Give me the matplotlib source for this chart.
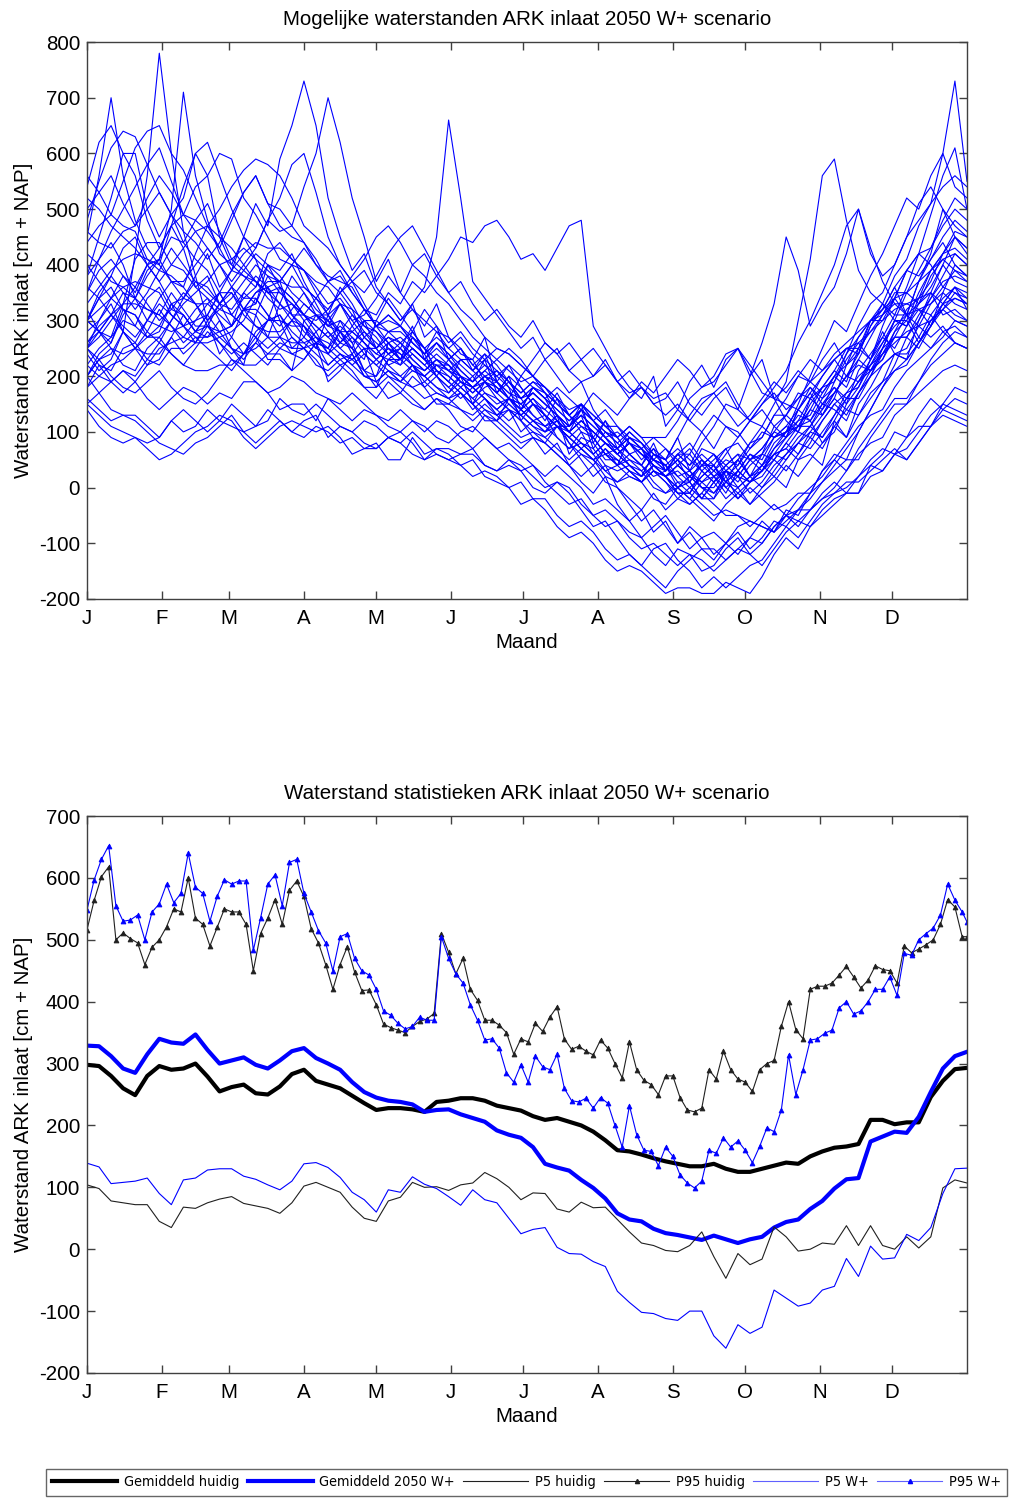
import matplotlib
matplotlib.use("Agg")
import matplotlib.pyplot as plt
from matplotlib.lines import Line2D
from matplotlib import font_manager
from matplotlib.font_manager import FontProperties

plt.rcParams['font.family'] = ['Liberation Sans', 'DejaVu Sans']
plt.rcParams['axes.unicode_minus'] = False

# Month axis
month_starts = [0, 31, 59, 90, 120, 151, 181, 212, 243, 273, 304, 334]
month_labels = ['J', 'F', 'M', 'A', 'M', 'J', 'J', 'A', 'S', 'O', 'N', 'D']

# ---- Possible water levels per simulated year (cm + NAP), every 5 days ----
run_days = list(range(0, 366, 5))
run01 = [250, 300, 330, 280, 420, 560, 780, 600, 460, 380, 300, 240, 270, 320, 330, 400, 360, 310, 290, 250, 240, 280, 250, 210, 200, 260, 230, 280, 250, 210, 190, 170, 150, 190, 160, 140, 120, 150, 130, 90, 70, 100, 60, 30, 40, 90, 70, 30, 20, -10, -10, 30, 10, 40, 60, 20, 30, 70, 90, 140, 120, 80, 100, 150, 180, 230, 280, 240, 230, 300, 350, 310, 320, 300]
run02 = [450, 560, 700, 560, 480, 430, 400, 470, 430, 360, 380, 330, 290, 350, 330, 380, 370, 310, 280, 260, 250, 300, 260, 210, 180, 230, 220, 270, 240, 200, 170, 200, 150, 130, 120, 160, 130, 110, 100, 130, 60, 90, 80, 50, 50, 30, 20, 60, 40, 0, 10, -20, -20, 30, 20, -10, 10, 40, 60, 90, 110, 150, 140, 120, 170, 210, 230, 280, 300, 260, 290, 350, 400, 380]
run03 = [540, 620, 650, 600, 600, 500, 450, 490, 520, 600, 560, 450, 400, 380, 360, 420, 440, 410, 390, 350, 310, 360, 330, 290, 270, 240, 250, 290, 230, 260, 240, 210, 190, 230, 170, 200, 180, 150, 120, 160, 110, 130, 70, 100, 90, 60, 40, 70, 30, 50, 10, 40, 40, 0, 20, 50, 60, 110, 90, 140, 170, 130, 160, 220, 240, 290, 320, 360, 310, 370, 420, 500, 470, 450]
run04 = [300, 350, 380, 430, 450, 400, 410, 500, 710, 560, 480, 420, 400, 450, 410, 350, 330, 380, 350, 310, 290, 330, 320, 270, 250, 220, 230, 270, 250, 210, 190, 230, 230, 190, 170, 200, 140, 180, 160, 120, 100, 140, 90, 60, 70, 40, 20, 60, 50, 90, 30, 70, 60, 20, 40, 80, 90, 130, 130, 170, 160, 200, 230, 200, 240, 290, 330, 310, 360, 420, 400, 360, 350, 330]
run05 = [200, 240, 260, 320, 310, 270, 280, 330, 340, 380, 420, 360, 390, 450, 510, 470, 590, 650, 730, 650, 520, 450, 390, 420, 360, 330, 300, 330, 270, 290, 230, 250, 210, 240, 190, 160, 140, 180, 170, 130, 110, 150, 80, 120, 90, 60, 40, 80, 30, 60, 60, 100, 70, 110, 100, 70, 90, 130, 160, 200, 190, 230, 260, 220, 270, 300, 300, 340, 310, 290, 270, 290, 260, 250]
run06 = [300, 280, 260, 310, 340, 390, 410, 370, 360, 420, 470, 430, 480, 530, 560, 510, 500, 470, 540, 600, 700, 620, 520, 450, 370, 410, 350, 320, 290, 330, 270, 240, 230, 270, 190, 220, 180, 150, 140, 170, 130, 100, 90, 120, 70, 100, 80, 50, 40, 10, 10, 50, 20, -10, 30, 60, 50, 90, 100, 130, 120, 160, 180, 150, 210, 240, 270, 250, 290, 330, 360, 400, 370, 360]
run07 = [200, 230, 240, 280, 250, 220, 230, 270, 310, 280, 270, 300, 250, 220, 310, 360, 300, 250, 270, 310, 310, 270, 250, 300, 250, 280, 290, 330, 360, 450, 660, 520, 370, 340, 310, 280, 250, 270, 230, 200, 170, 190, 140, 110, 110, 80, 50, 70, 50, 20, 30, 0, -10, 20, -20, 10, 20, 50, 30, 60, 90, 70, 110, 140, 130, 170, 190, 240, 230, 260, 290, 320, 300, 290]
run08 = [350, 390, 410, 380, 360, 400, 370, 330, 290, 320, 340, 300, 270, 240, 260, 300, 310, 270, 250, 280, 240, 260, 290, 320, 310, 350, 330, 370, 350, 380, 410, 450, 440, 470, 480, 450, 410, 420, 390, 430, 470, 480, 290, 250, 210, 180, 160, 200, 110, 140, 190, 220, 180, 230, 250, 200, 230, 160, 120, 100, 160, 140, 190, 230, 260, 230, 290, 340, 390, 380, 410, 440, 400, 380]
run09 = [180, 220, 210, 250, 260, 230, 220, 250, 250, 270, 250, 230, 210, 240, 270, 230, 230, 210, 230, 260, 190, 210, 240, 200, 190, 160, 170, 200, 180, 150, 150, 170, 150, 120, 120, 140, 120, 100, 80, 110, 80, 60, 40, 70, 40, 20, 10, 30, 20, -10, -10, 20, 40, 10, 50, 80, 110, 150, 190, 300, 410, 560, 590, 480, 390, 350, 330, 300, 290, 320, 290, 330, 340, 330]
run10 = [250, 280, 310, 290, 270, 300, 330, 310, 290, 260, 290, 270, 250, 230, 260, 240, 260, 250, 250, 220, 210, 230, 210, 180, 180, 200, 180, 160, 140, 160, 150, 140, 120, 140, 120, 100, 80, 90, 80, 60, 40, 60, 50, 20, 10, 30, 10, 40, 30, 60, 40, 80, 110, 150, 140, 200, 260, 330, 450, 390, 290, 330, 360, 420, 500, 430, 370, 330, 310, 270, 250, 280, 290, 270]
run11 = [300, 340, 360, 320, 290, 270, 290, 330, 310, 280, 310, 350, 310, 290, 270, 250, 270, 240, 230, 260, 220, 240, 220, 200, 190, 210, 200, 180, 160, 170, 160, 140, 130, 150, 130, 110, 90, 100, 90, 70, 50, 70, 50, 30, 10, 20, 10, -20, -30, 0, 20, 10, 20, 40, 60, 50, 70, 100, 130, 110, 150, 180, 210, 190, 250, 300, 330, 380, 410, 470, 510, 600, 730, 550]
run12 = [220, 250, 270, 300, 290, 340, 360, 320, 310, 280, 290, 260, 240, 260, 240, 220, 250, 270, 250, 230, 200, 220, 200, 180, 160, 190, 170, 150, 140, 160, 140, 110, 100, 130, 110, 90, 70, 90, 80, 60, 40, 20, 40, 10, 0, -20, -40, -10, -40, -20, 0, -20, 10, 30, 50, 20, 60, 90, 110, 100, 140, 180, 210, 250, 240, 300, 310, 340, 390, 420, 490, 560, 610, 500]
run13 = [150, 130, 110, 100, 90, 80, 90, 120, 100, 110, 140, 120, 110, 100, 110, 140, 120, 100, 120, 130, 90, 110, 100, 80, 70, 90, 80, 60, 50, 70, 60, 40, 20, 30, 20, 0, -30, -20, -40, -70, -90, -80, -100, -130, -150, -140, -150, -170, -190, -180, -180, -190, -190, -170, -180, -190, -160, -120, -90, -110, -70, -50, -30, -10, -10, 40, 60, 100, 90, 130, 160, 140, 130, 120]
run14 = [140, 110, 90, 80, 90, 70, 50, 60, 80, 100, 110, 130, 120, 90, 70, 90, 110, 120, 110, 100, 110, 90, 60, 70, 70, 90, 100, 80, 50, 60, 50, 40, 50, 20, 10, 0, 10, -20, -20, -50, -70, -60, -80, -110, -130, -120, -140, -160, -180, -150, -130, -110, -110, -130, -110, -120, -100, -70, -50, -60, -40, -10, 10, -10, 20, 50, 70, 60, 70, 100, 130, 150, 140, 130]
run15 = [160, 140, 120, 130, 120, 100, 80, 70, 60, 80, 90, 110, 130, 100, 80, 100, 120, 100, 90, 110, 100, 80, 90, 70, 80, 50, 50, 90, 60, 70, 70, 60, 70, 40, 30, 40, 30, 0, -10, 10, -10, -40, -70, -60, -90, -120, -140, -110, -100, -130, -150, -180, -160, -180, -160, -140, -130, -100, -70, -90, -60, -30, -10, 10, 10, 30, 50, 70, 50, 80, 110, 140, 160, 150]
run16 = [200, 170, 140, 130, 130, 110, 90, 120, 140, 120, 100, 120, 150, 130, 110, 120, 160, 140, 130, 150, 130, 110, 100, 120, 110, 90, 80, 100, 80, 60, 50, 60, 60, 40, 30, 50, 40, 20, 0, 10, 0, -30, -50, -40, -60, -80, -90, -120, -140, -110, -120, -150, -140, -110, -90, -120, -140, -110, -80, -60, -70, -40, -20, -10, -10, 20, 30, 60, 50, 80, 110, 130, 120, 110]
run17 = [250, 220, 190, 210, 190, 160, 140, 160, 180, 170, 150, 170, 160, 190, 190, 170, 140, 150, 150, 120, 160, 140, 120, 140, 130, 110, 100, 120, 110, 90, 80, 100, 110, 90, 70, 80, 60, 40, 20, 40, 20, 0, -30, -20, -40, -60, -90, -70, -50, -80, -110, -90, -80, -100, -70, -60, -70, -80, -50, -40, -40, -20, -10, 0, 20, 40, 30, 60, 90, 110, 110, 150, 180, 170]
run18 = [380, 410, 440, 400, 340, 320, 310, 350, 320, 290, 290, 330, 360, 320, 290, 270, 330, 300, 270, 250, 310, 280, 240, 270, 290, 260, 230, 250, 230, 200, 230, 250, 220, 200, 210, 180, 120, 90, 60, 80, 40, 10, -10, 20, -30, -60, -40, -80, -60, -100, -70, -90, -120, -100, -80, -110, -90, -60, -70, -40, -20, 10, 40, 70, 100, 140, 180, 220, 270, 250, 290, 330, 360, 320]
run19 = [320, 280, 270, 330, 410, 440, 440, 400, 390, 360, 340, 320, 310, 290, 270, 300, 360, 340, 310, 280, 300, 260, 250, 230, 300, 340, 310, 280, 320, 290, 260, 280, 250, 230, 250, 240, 220, 200, 230, 250, 210, 190, 200, 230, 190, 170, 180, 150, 160, 190, 150, 130, 160, 180, 140, 120, 150, 170, 140, 160, 190, 170, 200, 220, 250, 230, 260, 290, 310, 320, 330, 350, 330, 320]
run20 = [500, 530, 560, 510, 470, 500, 530, 490, 440, 480, 510, 460, 410, 430, 410, 390, 370, 400, 360, 340, 320, 350, 370, 330, 290, 300, 290, 260, 240, 280, 270, 250, 220, 240, 220, 190, 170, 190, 180, 150, 130, 150, 130, 110, 90, 110, 90, 60, 50, 70, 50, 30, 50, 70, 30, 10, 30, 60, 70, 50, 80, 120, 150, 130, 170, 200, 240, 270, 270, 310, 340, 380, 420, 400]
run21 = [260, 290, 310, 350, 340, 380, 410, 450, 440, 410, 390, 350, 310, 340, 360, 400, 390, 420, 370, 330, 290, 300, 280, 260, 240, 230, 230, 250, 230, 220, 220, 190, 170, 190, 210, 190, 160, 170, 150, 130, 110, 130, 110, 90, 60, 80, 60, 40, 20, 40, 60, 30, 10, 30, 50, 20, 0, 30, 60, 80, 70, 100, 130, 160, 160, 200, 250, 300, 290, 340, 390, 420, 450, 420]
run22 = [420, 400, 370, 360, 340, 300, 290, 280, 290, 300, 310, 350, 390, 420, 440, 430, 430, 410, 390, 370, 360, 330, 300, 310, 340, 380, 350, 400, 420, 380, 350, 370, 330, 300, 320, 290, 270, 300, 260, 240, 260, 230, 200, 220, 190, 160, 180, 150, 130, 150, 120, 100, 130, 110, 90, 120, 140, 110, 130, 160, 180, 150, 170, 200, 220, 210, 240, 260, 280, 290, 300, 320, 340, 330]
run23 = [560, 530, 490, 470, 460, 410, 390, 380, 360, 330, 290, 280, 290, 320, 320, 300, 310, 280, 260, 270, 260, 240, 220, 240, 220, 200, 190, 210, 200, 180, 170, 190, 180, 160, 140, 160, 140, 120, 100, 110, 90, 70, 50, 60, 50, 30, 10, 30, 10, -20, -30, -10, 20, 0, -20, 0, -20, -40, -30, -10, -10, 30, 50, 80, 110, 130, 140, 180, 210, 230, 250, 270, 300, 290]
run24 = [300, 320, 340, 380, 350, 400, 430, 470, 490, 540, 560, 600, 590, 520, 490, 450, 410, 400, 390, 360, 330, 340, 310, 280, 250, 270, 260, 240, 220, 240, 220, 200, 180, 190, 180, 160, 150, 170, 150, 130, 110, 130, 110, 90, 70, 90, 80, 50, 40, 60, 40, 60, 40, 70, 80, 50, 30, 60, 70, 100, 90, 120, 150, 170, 180, 220, 260, 300, 300, 350, 390, 420, 430, 410]
run25 = [240, 210, 230, 280, 260, 300, 340, 370, 370, 400, 430, 400, 360, 340, 340, 310, 290, 320, 350, 320, 300, 330, 290, 260, 230, 250, 230, 210, 200, 220, 210, 190, 180, 200, 190, 170, 160, 180, 160, 140, 120, 140, 120, 100, 80, 60, 70, 50, 30, 50, 70, 40, 20, 30, 20, 10, 30, 60, 90, 110, 110, 140, 170, 200, 190, 230, 270, 310, 310, 370, 410, 450, 480, 460]
run26 = [360, 340, 310, 280, 250, 240, 240, 270, 240, 260, 300, 330, 320, 350, 380, 360, 330, 310, 310, 290, 270, 250, 270, 240, 220, 240, 260, 230, 210, 230, 210, 190, 170, 190, 170, 150, 130, 150, 130, 110, 90, 110, 90, 60, 40, 50, 40, 10, -10, 0, -20, -40, -60, -30, -10, -30, -10, 10, 40, 20, 50, 80, 110, 90, 130, 160, 190, 210, 220, 260, 300, 330, 360, 350]
run27 = [280, 300, 340, 360, 370, 360, 350, 310, 290, 270, 270, 280, 290, 320, 350, 360, 370, 400, 430, 400, 380, 370, 360, 320, 290, 280, 280, 260, 240, 260, 240, 220, 200, 220, 200, 180, 160, 180, 160, 140, 120, 140, 120, 100, 80, 100, 80, 60, 50, 90, 130, 160, 170, 190, 150, 120, 110, 90, 100, 110, 120, 150, 180, 160, 190, 220, 250, 270, 270, 300, 340, 370, 380, 370]
run28 = [460, 440, 430, 460, 470, 520, 560, 530, 490, 480, 460, 430, 390, 380, 370, 340, 320, 330, 310, 290, 270, 290, 270, 250, 230, 250, 240, 220, 210, 230, 210, 200, 180, 200, 180, 160, 140, 160, 140, 120, 100, 120, 100, 80, 60, 80, 60, 40, 20, 40, 20, 0, -20, 10, 30, 10, 30, 50, 80, 60, 100, 130, 160, 140, 170, 200, 220, 240, 240, 270, 310, 340, 360, 340]
run29 = [200, 230, 250, 220, 210, 250, 270, 240, 220, 250, 280, 260, 230, 220, 220, 240, 240, 210, 300, 270, 250, 230, 240, 200, 200, 230, 250, 220, 200, 220, 200, 180, 160, 180, 190, 160, 200, 230, 260, 240, 210, 230, 250, 220, 190, 210, 180, 160, 170, 140, 120, 150, 170, 140, 110, 130, 160, 190, 170, 200, 230, 210, 240, 260, 280, 300, 320, 340, 350, 370, 390, 410, 420, 400]
run30 = [350, 410, 460, 500, 540, 580, 610, 550, 490, 460, 430, 400, 370, 400, 430, 480, 460, 470, 440, 400, 370, 380, 350, 320, 290, 310, 290, 270, 250, 270, 250, 230, 210, 230, 210, 190, 170, 190, 170, 150, 130, 150, 120, 90, 70, 90, 70, 40, 20, 30, 10, -20, 10, -20, 0, -30, 0, 20, 0, 50, 60, 40, 120, 90, 150, 180, 220, 240, 250, 290, 330, 360, 390, 380]
run31 = [400, 370, 340, 320, 310, 280, 260, 300, 330, 350, 370, 400, 410, 390, 370, 350, 350, 330, 300, 310, 300, 280, 260, 280, 260, 240, 220, 240, 220, 200, 180, 200, 180, 160, 140, 160, 150, 130, 110, 120, 80, 50, 20, 40, 0, -30, -60, -40, -70, -100, -80, -110, -130, -100, -120, -90, -60, -80, -40, -50, -10, 30, 60, 50, 100, 140, 180, 210, 230, 260, 300, 320, 350, 340]
run32 = [180, 200, 220, 230, 250, 280, 320, 290, 270, 260, 260, 270, 280, 300, 340, 310, 270, 260, 260, 240, 220, 240, 230, 250, 250, 220, 200, 220, 200, 180, 160, 180, 160, 140, 130, 150, 130, 110, 90, 110, 90, 70, 50, 70, 50, 30, 10, 30, 10, -10, -30, -10, -30, -50, -50, -70, -50, -30, -50, -20, 0, 20, 50, 30, 70, 100, 130, 160, 160, 190, 230, 260, 280, 270]
run33 = [480, 550, 610, 640, 630, 580, 530, 490, 460, 440, 410, 440, 490, 530, 560, 510, 470, 450, 440, 410, 370, 390, 350, 320, 290, 310, 290, 260, 240, 260, 230, 210, 190, 210, 190, 170, 150, 170, 150, 130, 100, 120, 100, 80, 60, 80, 60, 40, 20, 40, 20, 0, 0, 30, 0, 20, 40, 60, 50, 80, 100, 90, 120, 160, 190, 210, 230, 270, 310, 330, 350, 400, 450, 430]
run34 = [300, 280, 250, 240, 250, 270, 270, 300, 340, 370, 360, 330, 350, 310, 290, 280, 280, 300, 290, 260, 280, 250, 230, 210, 230, 210, 190, 220, 180, 200, 180, 160, 180, 160, 140, 120, 140, 120, 100, 120, 100, 80, 60, 80, 60, 40, 20, 40, 20, 0, -20, 10, 30, 50, 40, 70, 100, 90, 110, 140, 180, 160, 200, 240, 270, 300, 320, 360, 390, 420, 430, 480, 520, 500]
run35 = [520, 500, 470, 450, 430, 400, 370, 400, 430, 460, 470, 500, 540, 570, 590, 580, 560, 520, 470, 450, 430, 400, 370, 390, 350, 330, 300, 320, 300, 280, 250, 270, 240, 220, 200, 220, 200, 180, 160, 180, 160, 140, 120, 140, 110, 90, 70, 90, 70, 50, 30, 50, 30, 10, 0, 20, 40, 20, 50, 80, 110, 90, 130, 170, 200, 220, 240, 280, 320, 340, 370, 420, 460, 450]
run36 = [220, 200, 190, 170, 190, 220, 250, 260, 270, 300, 330, 350, 350, 320, 310, 270, 250, 240, 250, 260, 250, 280, 310, 290, 280, 260, 270, 250, 230, 250, 230, 200, 180, 200, 180, 160, 140, 160, 130, 110, 110, 140, 170, 150, 130, 160, 190, 170, 200, 230, 210, 180, 200, 240, 250, 220, 190, 160, 180, 210, 190, 210, 230, 250, 260, 280, 300, 320, 330, 340, 350, 330, 310, 300]
run37 = [440, 470, 490, 550, 610, 640, 650, 600, 570, 520, 470, 450, 430, 400, 370, 350, 360, 340, 310, 340, 370, 350, 320, 300, 300, 280, 260, 280, 250, 230, 210, 230, 210, 190, 170, 190, 160, 130, 110, 130, 100, 80, 60, 80, 60, 40, 20, 40, 20, 0, 20, 40, 60, 40, 20, 50, 70, 100, 90, 120, 160, 180, 190, 240, 290, 330, 350, 400, 450, 480, 510, 540, 560, 540]
run38 = [260, 280, 310, 330, 330, 320, 310, 290, 260, 280, 310, 280, 250, 240, 250, 270, 270, 300, 330, 310, 290, 280, 280, 260, 240, 260, 240, 220, 190, 210, 190, 170, 150, 170, 160, 140, 130, 150, 130, 110, 100, 120, 100, 80, 60, 80, 70, 50, 30, 50, 30, 10, -10, 10, 30, 60, 40, 80, 100, 120, 130, 170, 200, 180, 230, 270, 310, 350, 350, 390, 430, 470, 500, 480]
run39 = [330, 360, 390, 410, 420, 410, 400, 370, 340, 330, 330, 310, 290, 320, 350, 370, 370, 360, 360, 340, 310, 330, 300, 270, 250, 270, 250, 230, 210, 230, 220, 200, 190, 210, 230, 210, 190, 200, 180, 160, 140, 150, 130, 110, 90, 110, 90, 90, 90, 120, 160, 180, 190, 220, 250, 210, 170, 160, 150, 140, 170, 200, 230, 250, 250, 280, 310, 330, 330, 320, 310, 280, 260, 250]
run40 = [150, 170, 190, 210, 200, 230, 260, 240, 220, 210, 210, 220, 220, 240, 280, 300, 300, 290, 290, 270, 240, 220, 230, 250, 190, 210, 190, 180, 190, 170, 160, 170, 140, 160, 130, 140, 100, 120, 110, 90, 70, 80, 70, 40, 30, 40, 30, 0, -10, 10, -10, -30, -50, -40, -50, -60, -70, -80, -60, -40, -10, 10, 30, 50, 50, 90, 120, 150, 150, 190, 220, 240, 260, 250]
run41 = [380, 450, 520, 600, 560, 480, 430, 470, 540, 600, 620, 560, 500, 450, 430, 480, 520, 580, 600, 530, 450, 400, 370, 350, 380, 420, 450, 470, 430, 390, 350, 320, 300, 270, 250, 240, 220, 200, 180, 160, 130, 110, 100, 80, 70, 50, 30, 50, 40, 20, 0, 20, 40, 10, -10, 10, 40, 70, 100, 150, 200, 250, 300, 280, 330, 380, 420, 470, 520, 500, 560, 600, 540, 520]
run42 = [250, 230, 200, 180, 170, 190, 210, 180, 160, 150, 170, 200, 230, 210, 190, 170, 180, 200, 190, 170, 160, 150, 170, 150, 130, 120, 140, 120, 100, 120, 110, 90, 70, 90, 70, 50, 30, 40, 10, -10, -30, -20, -50, -70, -60, -90, -110, -100, -120, -140, -120, -130, -150, -130, -110, -90, -100, -70, -50, -70, -40, -20, 0, 30, 60, 80, 90, 130, 150, 170, 190, 210, 220, 210]
run43 = [300, 340, 380, 350, 320, 350, 390, 430, 400, 370, 350, 330, 360, 390, 420, 400, 380, 350, 330, 310, 280, 260, 280, 300, 280, 250, 230, 250, 230, 210, 200, 180, 200, 170, 150, 160, 140, 120, 130, 110, 90, 70, 90, 60, 40, 60, 40, 20, 30, 60, 80, 50, 30, 60, 90, 120, 150, 180, 210, 260, 300, 350, 400, 470, 500, 420, 380, 400, 450, 510, 540, 500, 450, 430]
run44 = [250, 270, 300, 330, 360, 330, 300, 320, 350, 330, 300, 320, 340, 370, 400, 380, 350, 330, 310, 300, 320, 350, 380, 410, 450, 470, 440, 400, 380, 350, 330, 300, 270, 250, 230, 250, 230, 200, 170, 150, 130, 150, 120, 90, 100, 80, 60, 50, 70, 40, 20, 40, 60, 30, 10, 40, 60, 50, 80, 110, 140, 130, 170, 200, 230, 210, 250, 300, 350, 330, 380, 410, 390, 370]

runs = [run01, run02, run03, run04, run05, run06, run07, run08, run09, run10,
        run11, run12, run13, run14, run15, run16, run17, run18, run19, run20,
        run21, run22, run23, run24, run25, run26, run27, run28, run29, run30,
        run31, run32, run33, run34, run35, run36, run37, run38, run39, run40,
        run41, run42, run43, run44]

# ---- Statistics (cm + NAP), every 5 days ----
stat_days = list(range(0, 366, 5))
mean_huidig = [298, 296, 280, 260, 249, 280, 296, 290, 292, 300,
               279, 255, 262, 266, 252, 250, 263, 283, 290, 272,
               266, 260, 248, 236, 225, 228, 228, 226, 222, 238,
               240, 244, 244, 240, 232, 228, 224, 215, 209, 212,
               206, 200, 190, 176, 160, 158, 153, 147, 142, 138,
               134, 134, 138, 130, 125, 125, 130, 135, 140, 138,
               150, 158, 164, 166, 170, 209, 209, 202, 205, 205,
               246, 272, 291, 293]
mean_2050 = [329, 328, 312, 292, 285, 315, 340, 334, 332, 347,
             322, 300, 305, 310, 298, 292, 305, 320, 325, 309,
             300, 290, 270, 254, 245, 240, 238, 234, 222, 225,
             226, 218, 212, 206, 192, 185, 180, 165, 138, 132,
             127, 112, 99, 82, 58, 48, 45, 33, 26, 23,
             19, 15, 22, 16, 10, 16, 20, 35, 44, 48,
             65, 78, 98, 113, 115, 174, 182, 190, 188, 214,
             254, 292, 312, 319]
p5_huidig = [104, 98, 78, 75, 72, 72, 45, 35, 68, 66,
             75, 81, 85, 74, 70, 66, 58, 75, 102, 108,
             100, 92, 68, 50, 45, 78, 84, 108, 100, 101,
             95, 104, 107, 124, 114, 100, 80, 91, 90, 65,
             60, 76, 67, 68, 48, 28, 10, 6, -2, -4,
             6, 28, -12, -47, -7, -25, -16, 36, 20, -3,
             0, 10, 8, 38, 6, 38, 6, 0, 20, 2,
             20, 99, 112, 107]
p5_wplus = [139, 133, 106, 108, 110, 115, 90, 72, 112, 115,
            128, 130, 130, 118, 113, 104, 96, 110, 138, 140,
            132, 116, 92, 80, 60, 96, 92, 117, 105, 98,
            85, 71, 96, 80, 75, 50, 25, 32, 35, 3,
            -7, -8, -20, -28, -68, -86, -102, -104, -112, -115,
            -100, -100, -140, -160, -122, -136, -126, -66, -79, -92,
            -87, -66, -60, -15, -44, 5, -16, -14, 24, 14,
            35, 90, 130, 131]

# P95 series, every 3 days
p95_days = list(range(0, 364, 3)) + [365]
p95_huidig = [516, 564, 602, 618, 500, 511, 502, 495, 460, 488,
              500, 521, 550, 545, 600, 535, 525, 490, 520, 550,
              545, 545, 525, 450, 510, 535, 565, 525, 580, 595,
              570, 518, 495, 460, 420, 460, 489, 448, 418, 419,
              395, 364, 358, 354, 350, 360, 368, 372, 381, 510,
              480, 445, 470, 420, 402, 370, 370, 362, 350, 315,
              340, 335, 365, 352, 375, 392, 340, 323, 328, 320,
              314, 338, 325, 300, 277, 335, 290, 273, 266, 250,
              280, 280, 245, 225, 222, 228, 290, 275, 320, 290,
              275, 270, 255, 290, 300, 305, 360, 400, 355, 340,
              420, 425, 425, 430, 443, 457, 440, 422, 435, 458,
              452, 450, 430, 490, 479, 485, 492, 500, 525, 565,
              553, 505, 505]
p95_wplus = [548, 597, 630, 652, 555, 530, 532, 540, 500, 545,
             558, 590, 560, 575, 640, 585, 575, 530, 570, 597,
             590, 595, 595, 483, 535, 590, 605, 555, 625, 630,
             575, 545, 515, 495, 450, 505, 510, 470, 450, 443,
             420, 385, 378, 365, 356, 360, 375, 370, 370, 505,
             470, 445, 430, 395, 370, 338, 340, 325, 285, 270,
             298, 270, 312, 295, 290, 315, 260, 240, 238, 244,
             228, 245, 236, 200, 165, 232, 185, 160, 158, 135,
             165, 150, 120, 107, 99, 110, 160, 155, 180, 165,
             175, 160, 140, 166, 196, 190, 225, 314, 250, 290,
             338, 340, 349, 354, 390, 400, 380, 385, 400, 420,
             420, 440, 410, 478, 475, 500, 510, 519, 540, 590,
             564, 545, 529]

legend_labels = ['Gemiddeld huidig', 'Gemiddeld 2050 W+', 'P5 huidig',
                 'P95 huidig', 'P5 W+', 'P95 W+']

BLUE = '#0000ff'
SPINE = '#404040'
FS = 14.8


def narrow_font_path():
    """Most condensed regular sans face that is installed, if any."""
    rank = {'ultra-condensed': 1, 'extra-condensed': 2, 'condensed': 3,
            'semi-condensed': 4}
    best, best_rank = None, 99
    for f in font_manager.fontManager.ttflist:
        name = f.name.lower()
        fn = f.fname.lower()
        stretch = str(f.stretch).lower()
        r = rank.get(stretch, 99)
        if r == 99:
            if 'extracondensed' in fn or 'extra condensed' in name:
                r = 2
            elif 'narrow' in name or 'condensed' in name or 'condensed' in fn:
                r = 3
        if r == 99 or f.style != 'normal':
            continue
        if str(f.weight) not in ('400', 'normal', 'regular', 'book'):
            continue
        if 'mono' in name or ('serif' in name and 'sans' not in name):
            continue
        if r < best_rank:
            best, best_rank = f.fname, r
    return best


def style_axes(ax, ylim, ystep, title):
    ax.set_xlim(0, 365)
    ax.set_ylim(*ylim)
    ax.set_yticks(range(ylim[0], ylim[1] + 1, ystep))
    ax.set_xticks(month_starts)
    ax.set_xticklabels(month_labels)
    ax.tick_params(direction='in', length=6, width=1, color=SPINE,
                   top=True, right=True, labelsize=FS)
    ax.tick_params(axis='x', pad=7)
    ax.tick_params(axis='y', pad=5)
    for s in ax.spines.values():
        s.set_color(SPINE)
        s.set_linewidth(1)
    ax.set_title(title, fontsize=FS, pad=12)
    ax.set_xlabel('Maand', fontsize=FS, labelpad=4)
    ax.set_ylabel('Waterstand ARK inlaat [cm + NAP]', fontsize=FS, labelpad=4)


fig = plt.figure(figsize=(10.1, 15.02), dpi=100)

# Top: all simulated years
ax1 = fig.add_axes([0.0861, 0.6012, 0.8713, 0.3708])
for r in runs:
    ax1.plot(run_days, r, color=BLUE, lw=0.8)
style_axes(ax1, (-200, 800), 100, 'Mogelijke waterstanden ARK inlaat 2050 W+ scenario')

# Bottom: statistics
ax2 = fig.add_axes([0.0861, 0.0859, 0.8713, 0.3708])
ax2.plot(stat_days, mean_huidig, color='black', lw=3)
ax2.plot(stat_days, mean_2050, color=BLUE, lw=3)
ax2.plot(stat_days, p5_huidig, color='#202020', lw=0.8)
ax2.plot(p95_days, p95_huidig, color='#202020', lw=0.8, marker='^',
         ms=3.5, mew=0.6, mfc='#202020', mec='#202020')
ax2.plot(stat_days, p5_wplus, color=BLUE, lw=0.8)
ax2.plot(p95_days, p95_wplus, color=BLUE, lw=0.8, marker='^',
         ms=3.5, mew=0.6, mfc=BLUE, mec=BLUE)
style_axes(ax2, (-200, 700), 100, 'Waterstand statistieken ARK inlaat 2050 W+ scenario')

# Legend along the bottom, sized to span the figure width
legend_path = narrow_font_path()
handles = [Line2D([], [], color='black', lw=3),
           Line2D([], [], color=BLUE, lw=3),
           Line2D([], [], color='#202020', lw=0.8),
           Line2D([], [], color='#202020', lw=0.8, marker='^', ms=3, mfc='#202020', mec='#202020'),
           Line2D([], [], color='#6060ff', lw=0.8),
           Line2D([], [], color='#6060ff', lw=0.8, marker='^', ms=3, mfc=BLUE, mec=BLUE)]


def build_legend(size):
    if legend_path:
        prop = FontProperties(fname=legend_path, size=size)
    else:
        prop = FontProperties(family=['Liberation Sans', 'DejaVu Sans'], size=size)
    lg = fig.legend(handles, legend_labels, loc='center', bbox_to_anchor=(0.5213, 0.0130),
                    ncol=6, numpoints=1, frameon=True, fancybox=False,
                    handlelength=4.5, handletextpad=0.45, columnspacing=0.6,
                    borderpad=0.45, prop=prop)
    lg.get_frame().set_edgecolor(SPINE)
    lg.get_frame().set_linewidth(1)
    return lg


target_width = 963.0
size = 11.0
leg = build_legend(size)
for _ in range(2):
    fig.canvas.draw()
    w = leg.get_window_extent().width
    leg.remove()
    size = size * target_width / w
    leg = build_legend(size)

fig.savefig('out.png', dpi=100)
